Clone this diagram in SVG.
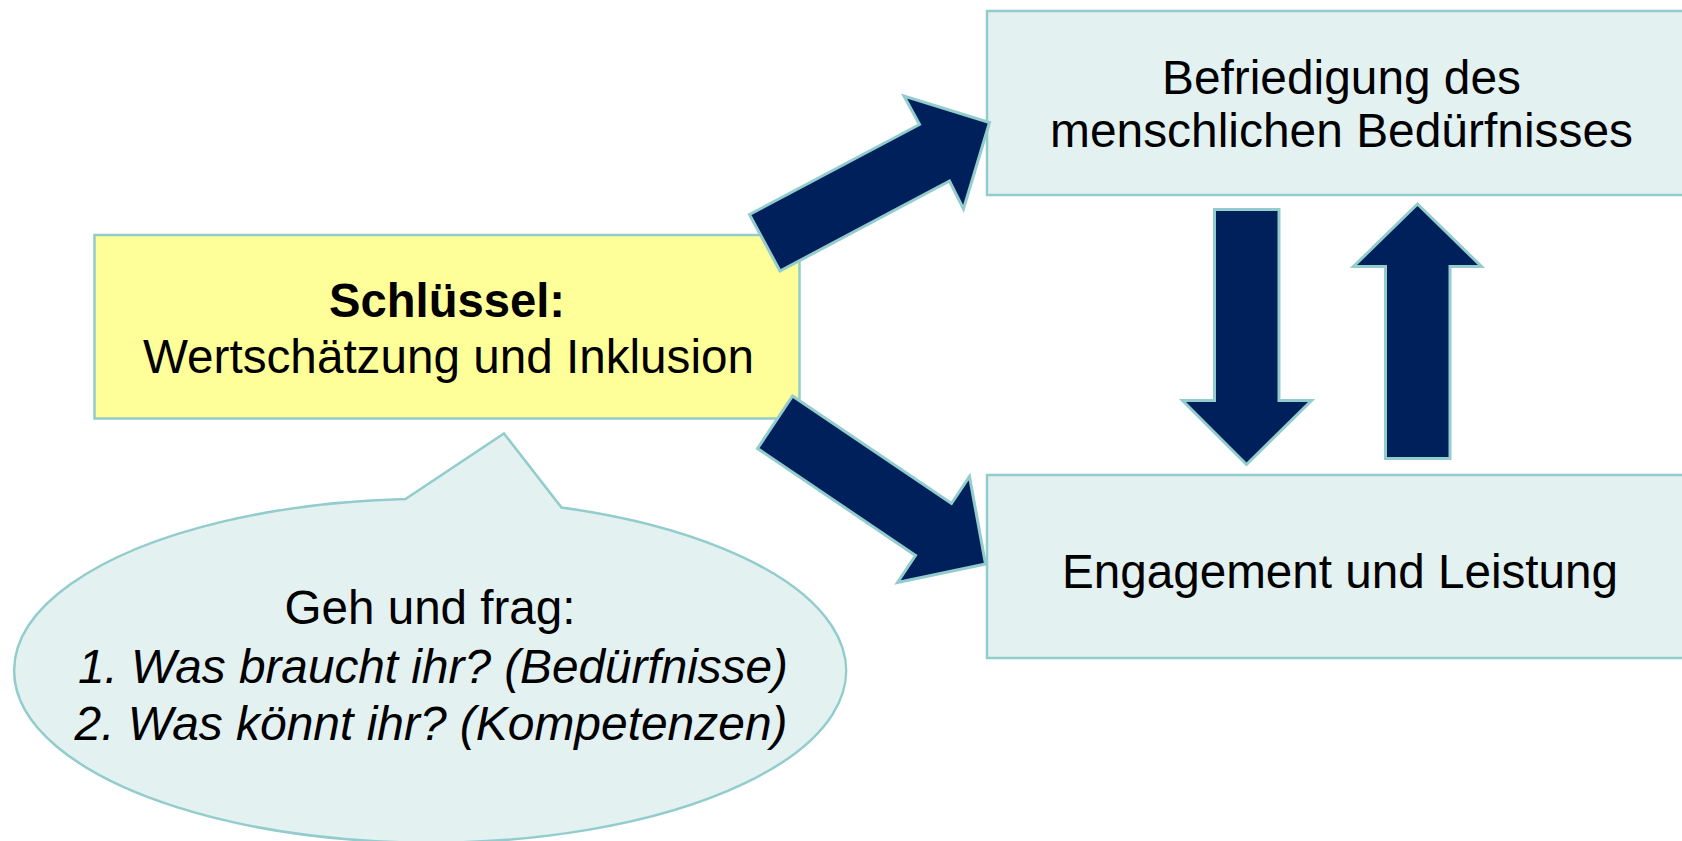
<svg xmlns="http://www.w3.org/2000/svg" width="1682" height="841" viewBox="0 0 1682 841">
<style>
.box{fill:#E3F1F1;stroke:#93CCCC;stroke-width:2.5}
.key{fill:#FFFF99;stroke:#93CCCC;stroke-width:2.5}
.arrow{fill:#00205B;stroke:#93CCCC;stroke-width:3;stroke-linejoin:miter}
text{font-family:"Liberation Sans",Arial,sans-serif;font-size:47.5px;fill:#000;text-anchor:middle}
.b{font-weight:bold}
.i{font-style:italic}
</style>
<rect width="1682" height="841" fill="#FFFFFF"/>
<g id="callout">
<path class="box" d="M405.5,499 L504,433.5 L561.5,507.5 A416,172 0 1 1 405.5,499 Z"/>
<text x="430" y="624" textLength="291" lengthAdjust="spacingAndGlyphs">Geh und frag:</text>
<text class="i" x="433" y="683" textLength="710" lengthAdjust="spacingAndGlyphs">1. Was braucht ihr? (Bedürfnisse)</text>
<text class="i" x="431" y="740" textLength="713" lengthAdjust="spacingAndGlyphs">2. Was könnt ihr? (Kompetenzen)</text>
</g>
<g id="key">
<rect class="key" x="94.5" y="235" width="705" height="183.5"/>
<text class="b" x="447" y="317" textLength="236" lengthAdjust="spacingAndGlyphs">Schlüssel:</text>
<text x="448.5" y="373" textLength="611" lengthAdjust="spacingAndGlyphs">Wertschätzung und Inklusion</text>
</g>
<g id="befriedigung">
<rect class="box" x="987" y="11" width="710" height="184"/>
<text x="1341.5" y="94" textLength="359" lengthAdjust="spacingAndGlyphs">Befriedigung des</text>
<text x="1341.5" y="147" textLength="583" lengthAdjust="spacingAndGlyphs">menschlichen Bedürfnisses</text>
</g>
<g id="engagement">
<rect class="box" x="987" y="475" width="710" height="183"/>
<text x="1340" y="588" textLength="556" lengthAdjust="spacingAndGlyphs">Engagement und Leistung</text>
</g>
<g id="connectors">
<polygon class="arrow" points="749.5,214.5 919.5,124.5 904,96 989.5,122.5 963.5,209 949.5,181 780,271"/>
<polygon class="arrow" points="792.5,396 951.5,503.5 969.5,476.5 985.5,564 897.5,582.5 915.5,555.5 757.5,448.5"/>
<polygon class="arrow" points="1214.5,209.5 1279,209.5 1279,400.5 1311.5,400.5 1246.5,464.5 1182.5,400.5 1214.5,400.5"/>
<polygon class="arrow" points="1417.5,204 1481.5,266.5 1450,266.5 1450,458.5 1385.5,458.5 1385.5,266.5 1353.5,266.5"/>
</g>
</svg>
